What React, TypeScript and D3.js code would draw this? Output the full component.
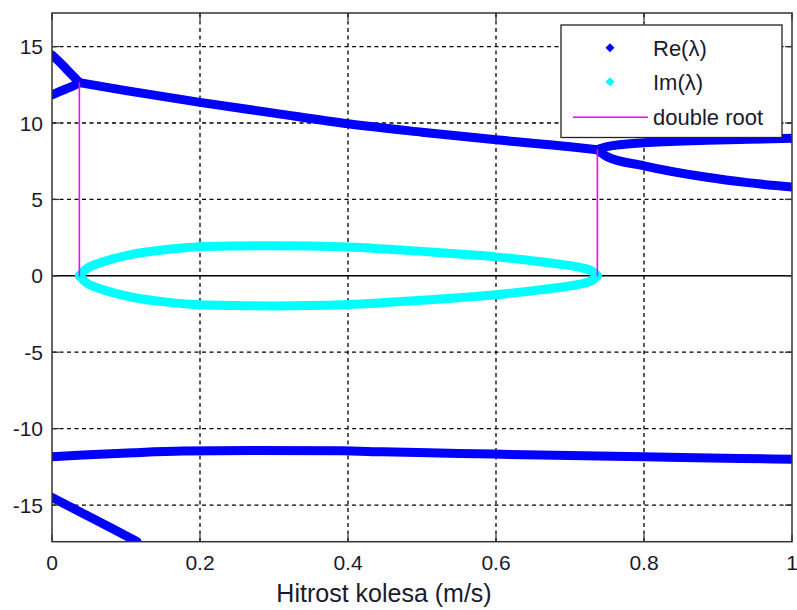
import React from "react";
import * as d3 from "d3";

// Re(λ) branches (speed in m/s, value)
const reTopX = [0, 0.01, 0.02, 0.03, 0.037];
const reTopY = [14.45, 14.0, 13.5, 13.0, 12.64];
const reLowX = [0, 0.01, 0.02, 0.03, 0.037];
const reLowY = [11.85, 12.05, 12.25, 12.45, 12.64];
const rePairX = [0.037, 0.1, 0.2, 0.3, 0.4, 0.5, 0.6, 0.7, 0.737];
const rePairY = [12.64, 12.12, 11.35, 10.65, 9.95, 9.4, 8.9, 8.45, 8.25];
const reSplitUpX = [0.737, 0.75, 0.8, 0.885, 0.94, 1.0];
const reSplitUpY = [8.25, 8.45, 8.71, 8.87, 8.94, 9.0];
const reSplitDnX = [0.737, 0.75, 0.8, 0.885, 0.94, 1.0];
const reSplitDnY = [8.25, 7.8, 7.2, 6.45, 6.1, 5.81];
const reNegX = [0, 0.042, 0.11, 0.177, 0.27, 0.39, 0.447, 0.55, 0.66, 0.8, 0.93, 1.0];
const reNegY = [-11.84, -11.73, -11.58, -11.47, -11.43, -11.45, -11.52, -11.62, -11.73, -11.84, -11.96, -12.0];
const reSteepX = [0, 0.042, 0.08, 0.115];
const reSteepY = [-14.5, -15.55, -16.5, -17.4];

// Im(λ) (upper half; lower is mirrored)
const imX = [0.037, 0.045, 0.065, 0.09, 0.11, 0.155, 0.2, 0.25, 0.3, 0.35, 0.4, 0.45, 0.5, 0.55, 0.6, 0.65, 0.68, 0.71, 0.73, 0.737];
const imY = [0, 0.4, 0.85, 1.2, 1.42, 1.72, 1.9, 1.95, 1.97, 1.95, 1.88, 1.75, 1.6, 1.43, 1.24, 0.98, 0.8, 0.58, 0.3, 0];

// double roots
const dblX = [0.037, 0.737];
const dblY = [12.64, 8.25];

const xTicks = [0, 0.2, 0.4, 0.6, 0.8, 1];
const yTicks = [-15, -10, -5, 0, 5, 10, 15];
const xLabel = "Hitrost kolesa (m/s)";
const legendLabels = ["Re(\u03bb)", "Im(\u03bb)", "double root"];

const BLUE = "#0000ff";
const CYAN = "#00ffff";
const MAGENTA = "#ff00ff";
const FONT = "'Liberation Sans', Arial, sans-serif";

export default function App() {
  const W = 797, H = 610;
  const L = 52, R = 792, T = 13, B = 541.7;
  const x = d3.scaleLinear().domain([0, 1]).range([L, R]);
  const y = d3.scaleLinear().domain([-17.4, 17.2]).range([B, T]);
  const line = d3.line<[number, number]>().x(d => x(d[0])).y(d => y(d[1])).curve(d3.curveMonotoneX);
  const zip = (xs: number[], ys: number[]) => xs.map((v, i) => [v, ys[i]] as [number, number]);

  const reSeries = [
    zip(reTopX, reTopY),
    zip(reLowX, reLowY),
    zip(rePairX, rePairY),
    zip(reSplitUpX, reSplitUpY),
    zip(reSplitDnX, reSplitDnY),
    zip(reNegX, reNegY),
    zip(reSteepX, reSteepY),
  ];
  const imSeries = [zip(imX, imY), zip(imX, imY.map(v => -v))];
  const diamond = "M0,-4.5L4.5,0L0,4.5L-4.5,0Z";
  const tickLen = 7;

  return (
    <svg width={W} height={H} style={{ position: "absolute", left: 0, top: 0, background: "#fff" }}>
      <defs>
        <clipPath id="plot">
          <rect x={L} y={T} width={R - L} height={B - T} />
        </clipPath>
      </defs>
      <rect x={0} y={0} width={W} height={H} fill="#fff" />
      {/* grid */}
      <g stroke="#000" strokeWidth={1.3} strokeDasharray="4,3.5">
        {xTicks.slice(1, -1).map(t => (
          <line key={"gx" + t} x1={x(t)} x2={x(t)} y1={T} y2={B} />
        ))}
        {yTicks.filter(t => t !== 0).map(t => (
          <line key={"gy" + t} x1={L} x2={R} y1={y(t)} y2={y(t)} />
        ))}
      </g>
      {/* zero line */}
      <line x1={L} x2={R} y1={y(0)} y2={y(0)} stroke="#000" strokeWidth={1.5} />
      {/* data */}
      <g clipPath="url(#plot)" fill="none" strokeLinecap="round" strokeLinejoin="round">
        {imSeries.map((s, i) => (
          <path key={"im" + i} d={line(s) || ""} stroke={CYAN} strokeWidth={9} />
        ))}
        {reSeries.map((s, i) => (
          <path key={"re" + i} d={line(s) || ""} stroke={BLUE} strokeWidth={9} />
        ))}
        {dblX.map((v, i) => (
          <line key={"db" + i} x1={x(v)} x2={x(v)} y1={y(0)} y2={y(dblY[i])} stroke={MAGENTA} strokeWidth={1.6} />
        ))}
      </g>
      {/* ticks */}
      <g stroke="#333" strokeWidth={1.3}>
        {xTicks.map(t => (
          <g key={"tx" + t}>
            <line x1={x(t)} x2={x(t)} y1={B} y2={B - tickLen} />
            <line x1={x(t)} x2={x(t)} y1={T} y2={T + tickLen} />
          </g>
        ))}
        {yTicks.map(t => (
          <g key={"ty" + t}>
            <line x1={L} x2={L + tickLen} y1={y(t)} y2={y(t)} />
            <line x1={R} x2={R - tickLen} y1={y(t)} y2={y(t)} />
          </g>
        ))}
      </g>
      {/* border */}
      <rect x={L} y={T} width={R - L} height={B - T} fill="none" stroke="#333" strokeWidth={1.5} />
      {/* tick labels */}
      <g fontFamily={FONT} fontSize={21} fill="#1a1a2e">
        {xTicks.map(t => (
          <text key={"lx" + t} x={x(t)} y={570} textAnchor="middle">{d3.format("~g")(t)}</text>
        ))}
        {yTicks.map(t => (
          <text key={"ly" + t} x={43} y={y(t) + 7.5} textAnchor="end">{t}</text>
        ))}
      </g>
      <text x={384} y={602} textAnchor="middle" fontFamily={FONT} fontSize={25} fill="#1a1a2e">{xLabel}</text>
      {/* legend */}
      <g>
        <rect x={561} y={25} width={221} height={112.5} fill="#fff" stroke="#222" strokeWidth={1.3} />
        <path d={diamond} transform={`translate(610,47.7)`} fill={BLUE} />
        <path d={diamond} transform={`translate(610,81.7)`} fill={CYAN} />
        <line x1={573} x2={648} y1={117.3} y2={117.3} stroke={MAGENTA} strokeWidth={1.6} />
        <g fontFamily={FONT} fontSize={22} fill="#1a1a2e">
          <text x={653} y={55.5}>{legendLabels[0]}</text>
          <text x={653} y={89.5}>{legendLabels[1]}</text>
          <text x={653} y={125}>{legendLabels[2]}</text>
        </g>
      </g>
    </svg>
  );
}
